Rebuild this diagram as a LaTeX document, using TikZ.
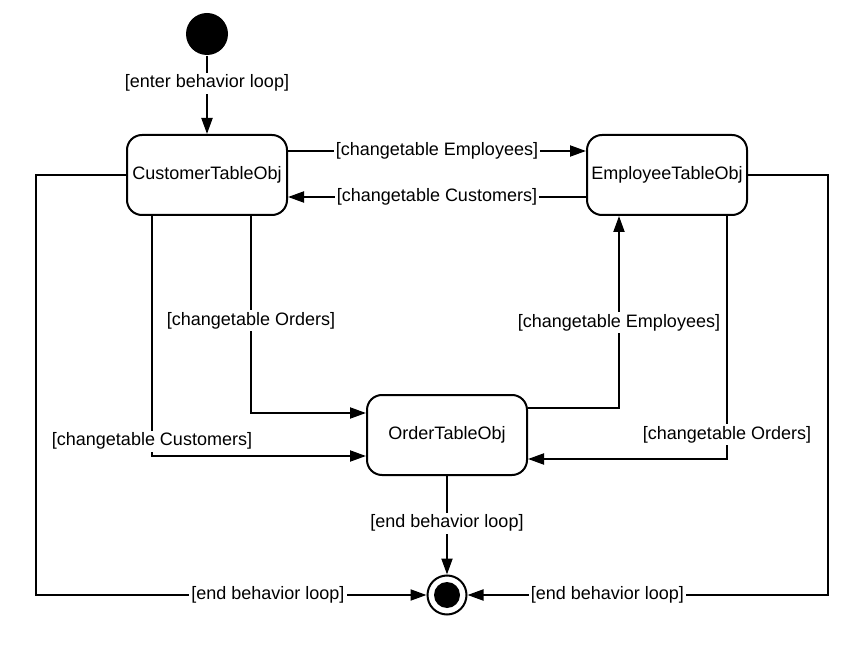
\documentclass[tikz,border=0pt]{standalone}
\usepackage{fontspec}
\setmainfont{Liberation Sans}
\usetikzlibrary{arrows.meta}
\begin{document}
\begin{tikzpicture}[x=1pt,y=-1pt,line width=2pt,
  every node/.style={font=\fontsize{18}{20}\selectfont},
  state/.style={draw,rounded corners=15pt,minimum width=160pt,minimum height=80pt,inner sep=0pt},
  lbl/.style={fill=white,inner sep=2pt},
  arr/.style={-{Triangle[length=16pt,width=11pt]}}]
\useasboundingbox (0,0) rectangle (868,655);
\node[circle,fill=black,minimum size=42pt,inner sep=0pt] (init) at (207,34) {};
\node[state] (cust) at (207,175) {CustomerTableObj};
\node[state] (emp) at (667,175) {EmployeeTableObj};
\node[state] (ord) at (447,435) {OrderTableObj};
\node[circle,draw,minimum size=39pt,inner sep=0pt] (final) at (447,595) {};
\node[circle,fill=black,minimum size=26pt,inner sep=0pt] (finalin) at (final) {};

\draw[arr] (init) -- node[lbl,pos=0.35]{[enter behavior loop]} (cust);
\draw[arr] ([yshift=24pt]cust.east) -- node[lbl]{[changetable Employees]} ([yshift=24pt]emp.west);
\draw[arr] ([yshift=-22pt]emp.west) -- node[lbl]{[changetable Customers]} ([yshift=-22pt]cust.east);
\draw[arr] (cust.west) -- ++(-90,0) |- node[lbl,pos=0.797]{[end behavior loop]} (final);
\draw[arr] (emp.east) -- ++(80,0) |- node[lbl,pos=0.806]{[end behavior loop]} (final);
\draw[arr] ([xshift=44pt]cust.south) |- node[lbl,pos=0.265]{[changetable Orders]} ([yshift=22pt]ord.west);
\draw[arr] ([xshift=-55pt]cust.south) |- node[lbl,pos=0.469]{[changetable Customers]} ([yshift=-21pt]ord.west);
\draw[arr] ([yshift=27pt]ord.east) -| node[lbl,pos=0.723]{[changetable Employees]} ([xshift=-48pt]emp.south);
\draw[arr] ([xshift=60pt]emp.south) |- node[lbl,pos=0.45]{[changetable Orders]} ([yshift=-24pt]ord.east);
\draw[arr] (ord) -- node[lbl,pos=0.48]{[end behavior loop]} (final);
\end{tikzpicture}
\end{document}
